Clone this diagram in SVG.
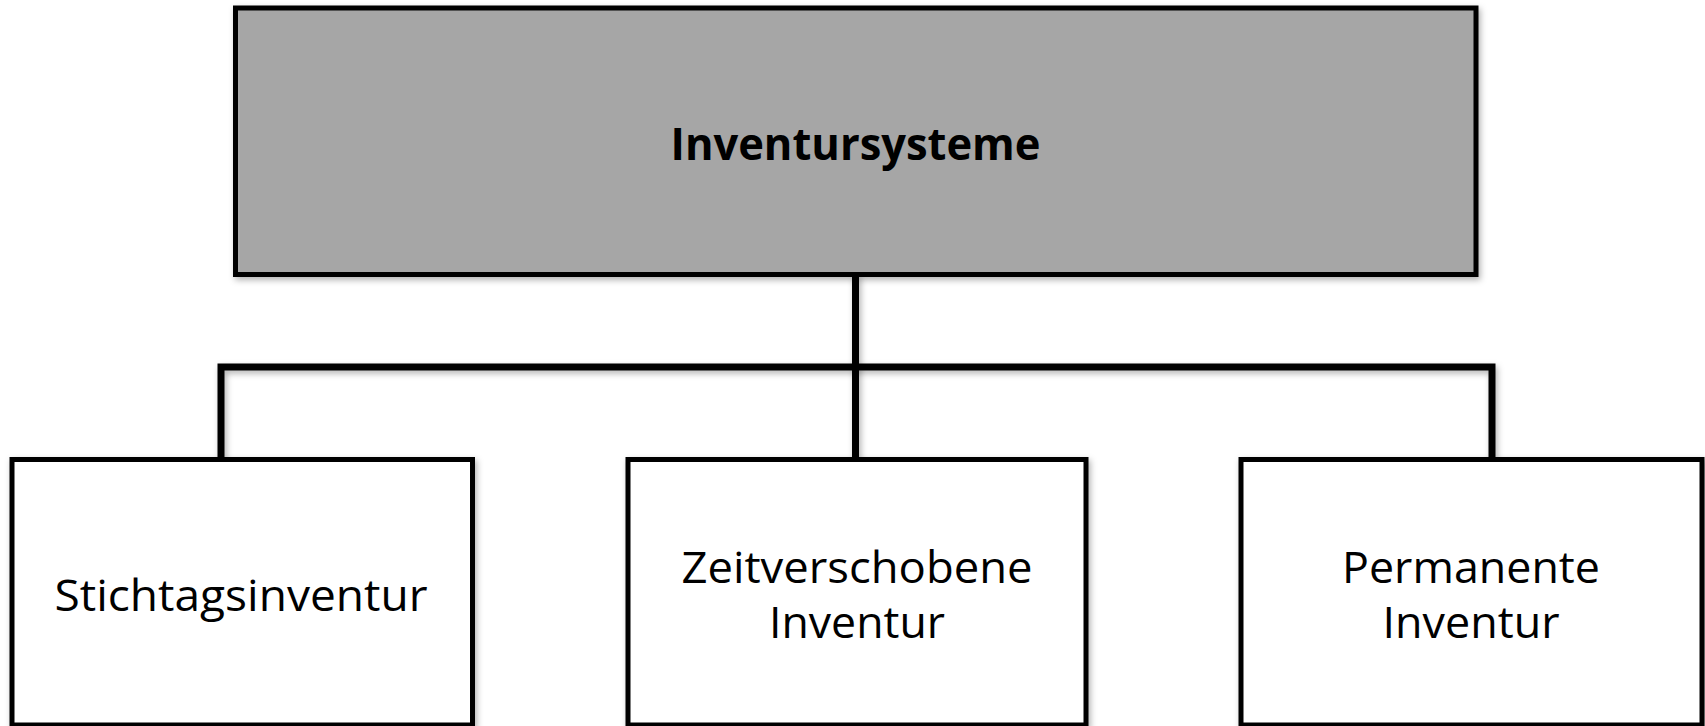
<svg xmlns="http://www.w3.org/2000/svg" width="1705" height="726" viewBox="0 0 1705 726">
<defs>
<filter id="sh" x="-5%" y="-5%" width="110%" height="115%">
<feDropShadow dx="2" dy="3" stdDeviation="3" flood-color="#000" flood-opacity="0.3"/>
</filter>
<filter id="shl" filterUnits="userSpaceOnUse" x="0" y="0" width="1705" height="726">
<feDropShadow dx="2" dy="3" stdDeviation="3" flood-color="#000" flood-opacity="0.3"/>
</filter>
</defs>
<style>
.box{stroke:#000;stroke-width:5;filter:url(#sh)}
.top{fill:#a6a6a6}
.child{fill:#fff}
.lbl{font-family:"Open Sans","Liberation Sans",sans-serif;font-size:44px;fill:#000;text-anchor:middle}
.b{font-weight:bold}
.conn{fill:none;stroke:#000;stroke-width:7;stroke-linejoin:miter;stroke-linecap:butt;filter:url(#shl)}
</style>
<rect width="1705" height="726" fill="#fff"/>
<g id="connectors">
<path class="conn" d="M855.5 274 V459"/>
<path class="conn" d="M221 459 V367 H1492 V459"/>
</g>
<g id="n-root">
<rect class="box top" x="235.5" y="8" width="1240.5" height="266.5"/>
<text class="lbl b" x="855.5" y="160" textLength="370" lengthAdjust="spacingAndGlyphs">Inventursysteme</text>
</g>
<g id="n-stichtag">
<rect class="box child" x="12" y="459.5" width="460.5" height="265.5"/>
<text class="lbl" x="241" y="611" textLength="373" lengthAdjust="spacingAndGlyphs">Stichtagsinventur</text>
</g>
<g id="n-zeitversch">
<rect class="box child" x="628" y="459.5" width="458" height="265.5"/>
<text class="lbl" x="857" y="583" textLength="351" lengthAdjust="spacingAndGlyphs">Zeitverschobene</text>
<text class="lbl" x="857" y="638" textLength="176" lengthAdjust="spacingAndGlyphs">Inventur</text>
</g>
<g id="n-permanent">
<rect class="box child" x="1241" y="459.5" width="461" height="265.5"/>
<text class="lbl" x="1471" y="583" textLength="258" lengthAdjust="spacingAndGlyphs">Permanente</text>
<text class="lbl" x="1471" y="638" textLength="177" lengthAdjust="spacingAndGlyphs">Inventur</text>
</g>
</svg>
